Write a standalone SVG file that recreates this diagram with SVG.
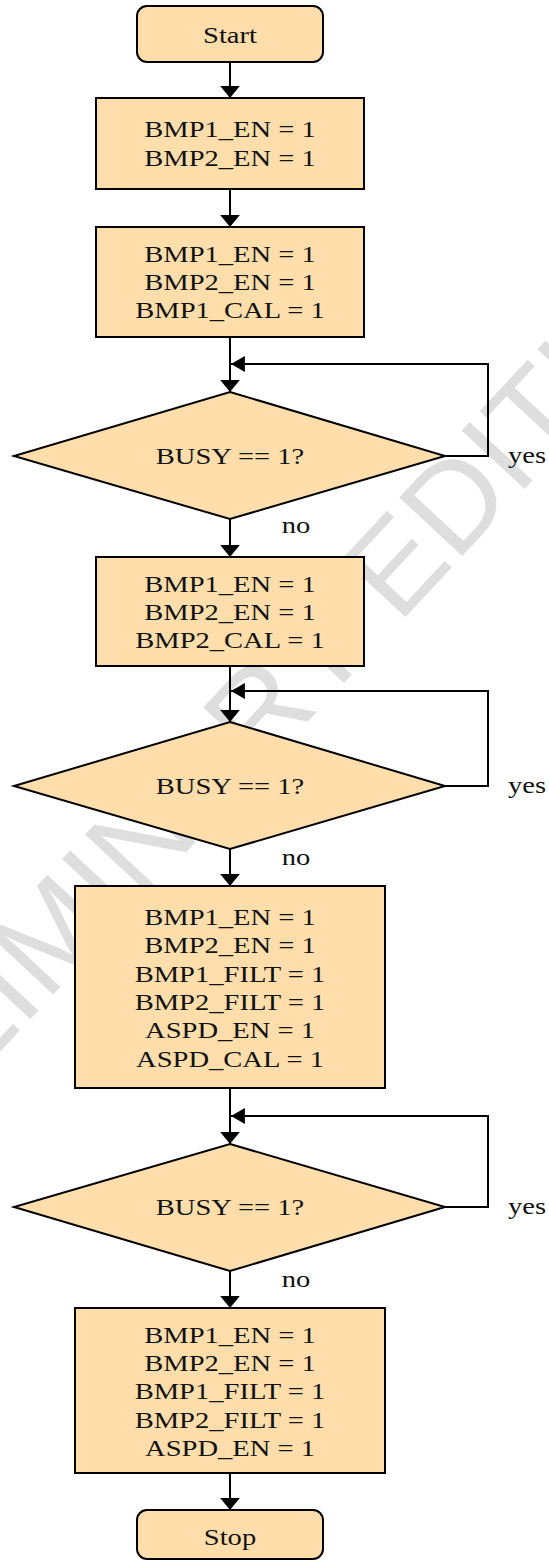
<svg xmlns="http://www.w3.org/2000/svg" width="549" height="1562" viewBox="0 0 549 1562">
<style>
.node{fill:#ffdeac;stroke:#000;stroke-width:2}
.lbl{font-family:"Liberation Serif","Times New Roman",serif;font-size:24px;fill:#111}
.c{text-anchor:middle}
.conn{fill:none;stroke:#000;stroke-width:2}
.wm{font-family:"Liberation Sans",Arial,sans-serif;font-size:125px;fill:#dedede;text-anchor:middle}
</style>
<defs>
<marker id="ad" markerUnits="userSpaceOnUse" markerWidth="20" markerHeight="12" refX="9" refY="11" orient="0" viewBox="0 0 18 11"><path d="M0,0 L18,0 L9,11 Z" fill="#000"/></marker>
<marker id="al" markerUnits="userSpaceOnUse" markerWidth="14" markerHeight="16" refX="0" refY="7.5" orient="0" viewBox="0 0 13 15"><path d="M13,0 L13,15 L0,7.5 Z" fill="#000"/></marker>
</defs>
<rect width="549" height="1562" fill="#fff"/>
<g id="watermark"><text class="wm" transform="translate(272,760) rotate(-47)">PRELIMINARY EDITION</text></g>
<g id="connectors">
<line class="conn" x1="230" y1="62" x2="230" y2="98" marker-end="url(#ad)"/>
<line class="conn" x1="230" y1="189" x2="230" y2="227" marker-end="url(#ad)"/>
<line class="conn" x1="230" y1="337" x2="230" y2="392" marker-end="url(#ad)"/>
<polyline class="conn" points="445,456 488,456 488,364 231,364" marker-end="url(#al)"/>
<line class="conn" x1="230" y1="519" x2="230" y2="557" marker-end="url(#ad)"/>
<line class="conn" x1="230" y1="666" x2="230" y2="722" marker-end="url(#ad)"/>
<polyline class="conn" points="445,786 488,786 488,691 231,691" marker-end="url(#al)"/>
<line class="conn" x1="230" y1="849" x2="230" y2="886" marker-end="url(#ad)"/>
<line class="conn" x1="230" y1="1088" x2="230" y2="1144" marker-end="url(#ad)"/>
<polyline class="conn" points="445,1207 488,1207 488,1116 231,1116" marker-end="url(#al)"/>
<line class="conn" x1="230" y1="1271" x2="230" y2="1308" marker-end="url(#ad)"/>
<line class="conn" x1="230" y1="1473" x2="230" y2="1510" marker-end="url(#ad)"/>
</g>
<g id="start"><rect class="node" x="137" y="6" width="186" height="56" rx="10"/></g>
<g id="box1"><rect class="node" x="96" y="98" width="268" height="91"/></g>
<g id="box2"><rect class="node" x="96" y="227" width="268" height="110"/></g>
<g id="dec1"><polygon class="node" points="230,392 445,456 230,519 14,456"/></g>
<g id="box3"><rect class="node" x="96" y="557" width="268" height="109"/></g>
<g id="dec2"><polygon class="node" points="230,722 445,786 230,849 14,786"/></g>
<g id="box4"><rect class="node" x="75" y="886" width="310" height="202"/></g>
<g id="dec3"><polygon class="node" points="230,1144 445,1207 230,1271 14,1207"/></g>
<g id="box5"><rect class="node" x="75" y="1308" width="310" height="165"/></g>
<g id="stop"><rect class="node" x="137" y="1510" width="186" height="49" rx="10"/></g>
<g id="labels" class="lbl" transform="matrix(1.19 0 0 1 -43.7 0)">
<text class="c" x="230" y="43">Start</text>
<text class="c" x="230" y="137">BMP1_EN = 1</text>
<text class="c" x="230" y="166">BMP2_EN = 1</text>
<text class="c" x="230" y="262">BMP1_EN = 1</text>
<text class="c" x="230" y="290">BMP2_EN = 1</text>
<text class="c" x="230" y="318">BMP1_CAL = 1</text>
<text class="c" x="230" y="464">BUSY == 1?</text>
<text x="463.6" y="463">yes</text>
<text class="c" x="285.5" y="533">no</text>
<text class="c" x="230" y="592">BMP1_EN = 1</text>
<text class="c" x="230" y="620">BMP2_EN = 1</text>
<text class="c" x="230" y="648">BMP2_CAL = 1</text>
<text class="c" x="230" y="794">BUSY == 1?</text>
<text x="463.6" y="793">yes</text>
<text class="c" x="285.5" y="865">no</text>
<text class="c" x="230" y="925">BMP1_EN = 1</text>
<text class="c" x="230" y="953">BMP2_EN = 1</text>
<text class="c" x="230" y="982">BMP1_FILT = 1</text>
<text class="c" x="230" y="1010">BMP2_FILT = 1</text>
<text class="c" x="230" y="1038">ASPD_EN = 1</text>
<text class="c" x="230" y="1067">ASPD_CAL = 1</text>
<text class="c" x="230" y="1215">BUSY == 1?</text>
<text x="463.6" y="1214">yes</text>
<text class="c" x="285.5" y="1287">no</text>
<text class="c" x="230" y="1343">BMP1_EN = 1</text>
<text class="c" x="230" y="1371">BMP2_EN = 1</text>
<text class="c" x="230" y="1399">BMP1_FILT = 1</text>
<text class="c" x="230" y="1428">BMP2_FILT = 1</text>
<text class="c" x="230" y="1456">ASPD_EN = 1</text>
<text class="c" x="230" y="1545">Stop</text>
</g>
</svg>
